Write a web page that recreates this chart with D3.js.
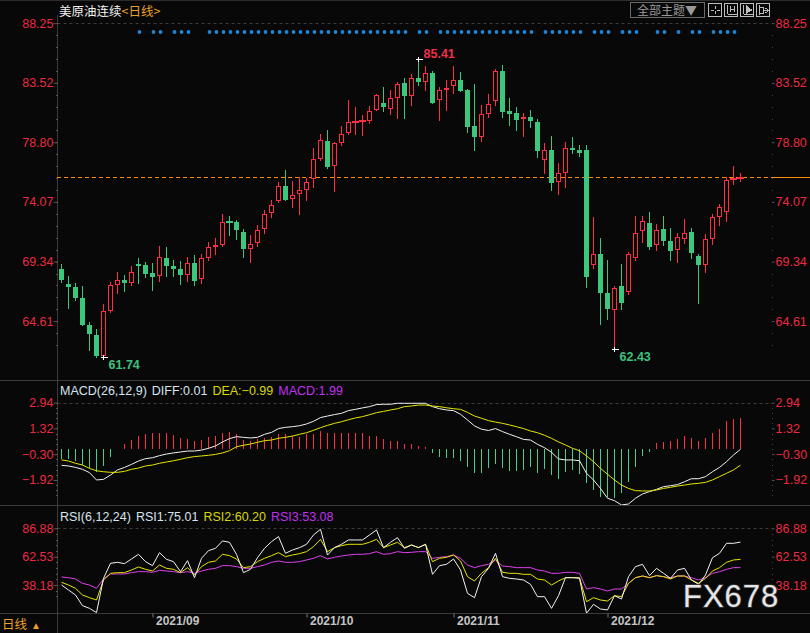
<!DOCTYPE html>
<html><head><meta charset="utf-8">
<script src="https://cdn.jsdelivr.net/npm/d3@7"></script>
<style>
html,body{margin:0;padding:0;background:#080808;overflow:hidden}
svg{display:block}
text{font-family:"Liberation Sans",Arial,sans-serif}
.cjk{font-family:"Noto Sans CJK SC","Liberation Sans",sans-serif}
</style></head><body>
<svg id="c" width="810" height="633"></svg>
<script>
// ---------- DATA ----------
const openP=[68.75,67.56,67.32,66.44,64.33,63.51,61.87,65.44,67.50,67.87,67.66,69.14,69.04,68.43,68.22,69.62,68.98,68.74,68.30,69.22,67.92,69.64,70.52,70.68,72.55,72.48,71.68,70.36,70.78,71.89,73.16,74.11,75.33,74.27,74.67,75.04,75.86,77.47,78.90,76.94,78.77,79.51,80.38,80.46,80.52,81.39,81.92,81.47,82.34,83.50,82.50,83.90,83.61,84.30,82.18,82.95,83.29,83.74,82.95,80.09,79.25,81.07,82.10,84.46,81.28,81.12,80.62,80.81,80.41,77.42,78.19,75.67,76.39,78.35,78.19,78.19,69.09,69.93,66.84,65.52,67.39,66.91,69.64,71.78,72.39,70.62,71.92,70.96,70.28,71.15,71.68,69.77,69.09,71.15,72.90,73.29,75.92,76.02];
const highP=[69.14,68.19,67.63,67.40,64.54,63.96,65.97,67.74,68.51,68.27,68.98,69.64,69.27,69.19,70.57,70.49,69.46,69.38,69.70,69.86,69.94,70.89,71.20,73.11,72.95,72.63,71.92,71.44,72.21,73.43,74.22,75.68,76.60,75.73,76.07,75.97,78.37,79.48,79.77,78.82,80.09,82.15,81.60,80.96,81.68,82.66,83.19,82.95,83.58,83.90,84.22,85.41,84.85,84.43,83.19,83.74,84.85,84.38,83.03,83.43,81.76,82.61,84.62,84.93,82.31,81.60,81.15,81.40,80.65,78.74,79.30,77.13,78.82,79.19,78.58,78.58,72.90,71.20,69.46,67.39,69.14,70.06,72.95,72.95,73.27,72.31,72.95,71.99,71.60,72.71,72.00,69.93,71.52,73.11,73.90,76.07,76.91,76.36];
const lowP=[67.74,65.68,66.31,64.33,62.34,61.80,61.74,65.36,66.87,67.03,67.48,67.63,68.14,67.10,67.82,68.19,68.19,67.55,67.82,67.48,67.66,69.46,69.96,70.60,71.47,71.15,69.72,69.33,70.60,71.57,72.85,74.09,74.25,73.69,73.14,74.22,75.28,77.39,76.78,74.96,78.58,79.46,79.46,79.40,80.36,81.34,81.26,81.07,80.75,80.75,81.76,83.37,82.95,81.92,80.57,81.36,82.74,82.87,79.62,78.19,78.90,80.81,81.76,80.81,80.17,79.78,79.32,80.04,77.66,76.39,75.01,74.72,75.28,77.95,77.74,67.34,68.85,64.40,64.77,62.43,65.57,66.73,69.46,70.91,70.33,70.25,70.67,69.46,69.30,70.80,69.61,66.04,68.48,70.72,72.23,72.55,75.49,75.75];
const closeP=[67.87,67.34,66.47,64.33,63.61,61.85,65.39,67.48,67.87,67.66,68.51,68.98,68.37,68.11,69.67,68.98,68.74,68.27,69.19,67.82,69.59,70.46,70.62,72.48,72.50,71.87,70.36,70.70,71.84,73.11,73.79,75.33,74.25,74.59,74.99,75.62,77.47,78.98,76.84,78.72,79.43,80.41,80.49,80.57,81.28,82.53,81.60,82.29,83.43,82.47,83.87,83.61,84.27,81.92,82.92,83.11,83.71,82.87,80.01,79.22,81.02,81.81,84.43,81.23,81.07,80.57,80.81,80.49,78.11,78.16,75.59,76.33,78.32,78.19,77.98,68.13,69.93,66.86,65.57,67.21,66.04,69.91,71.57,72.55,70.49,71.84,70.99,70.17,71.28,71.60,70.01,69.06,71.10,72.87,73.66,75.80,75.96,76.08];

const macdDif=[-1.00,-1.04,-1.13,-1.25,-1.46,-1.92,-1.88,-1.61,-1.29,-1.13,-0.94,-0.73,-0.58,-0.52,-0.39,-0.29,-0.22,-0.16,-0.10,-0.10,-0.04,0.07,0.22,0.47,0.68,0.80,0.76,0.72,0.76,0.95,1.07,1.31,1.39,1.43,1.49,1.60,1.77,2.00,2.10,2.19,2.27,2.44,2.52,2.61,2.69,2.82,2.84,2.84,2.90,2.90,2.90,2.90,2.90,2.69,2.56,2.48,2.44,2.21,1.85,1.48,1.27,1.19,1.31,1.12,0.95,0.80,0.63,0.59,0.32,0.11,-0.18,-0.60,-0.66,-0.66,-0.71,-1.50,-1.92,-2.45,-3.07,-3.22,-3.49,-3.43,-3.07,-2.80,-2.65,-2.51,-2.34,-2.28,-2.21,-2.03,-1.84,-1.84,-1.71,-1.40,-1.13,-0.77,-0.35,0.01];
const macdDea=[-0.66,-0.73,-0.87,-0.98,-1.19,-1.34,-1.40,-1.44,-1.44,-1.38,-1.25,-1.17,-1.04,-0.98,-0.87,-0.79,-0.71,-0.62,-0.52,-0.45,-0.41,-0.37,-0.31,-0.22,-0.08,0.17,0.26,0.34,0.45,0.55,0.59,0.70,0.76,0.84,0.95,1.05,1.20,1.37,1.51,1.64,1.74,1.87,1.98,2.06,2.18,2.31,2.39,2.48,2.56,2.69,2.73,2.79,2.79,2.73,2.69,2.62,2.56,2.52,2.33,2.10,1.96,1.81,1.72,1.64,1.54,1.43,1.31,1.16,1.05,0.89,0.70,0.47,0.28,0.07,-0.08,-0.41,-0.77,-1.19,-1.56,-1.92,-2.24,-2.45,-2.59,-2.61,-2.61,-2.55,-2.45,-2.38,-2.30,-2.24,-2.17,-2.13,-2.07,-1.92,-1.71,-1.50,-1.29,-0.99];
const macdHist=[-0.60,-0.60,-0.75,-0.98,-1.17,-1.44,-1.04,-0.45,0.05,0.34,0.59,0.87,0.97,1.05,1.01,1.01,0.91,0.74,0.66,0.53,0.59,0.76,0.84,1.05,1.12,0.97,0.59,0.55,0.64,0.70,0.80,0.97,0.97,0.84,0.80,0.97,0.97,1.18,1.01,1.01,1.05,1.05,1.01,1.01,0.84,0.84,0.64,0.55,0.55,0.34,0.34,0.24,0.17,-0.25,-0.45,-0.52,-0.52,-0.73,-1.13,-1.50,-1.50,-1.15,-0.92,-1.15,-1.33,-1.33,-1.29,-1.13,-1.46,-1.25,-1.61,-1.88,-1.40,-1.29,-1.56,-2.13,-2.55,-2.97,-2.97,-3.07,-2.76,-2.03,-1.13,-0.41,-0.14,0.38,0.49,0.53,0.63,0.84,0.70,0.53,0.70,1.05,1.30,1.78,1.89,1.99];

const rsi1=[38.18,33.88,29.59,20.42,18.12,14.46,43.91,56.80,57.66,56.52,60.53,64.54,58.23,54.80,65.97,60.24,58.23,49.64,59.09,44.48,61.10,67.69,69.70,76.00,74.85,64.54,48.78,51.65,61.67,69.70,75.43,79.72,65.40,68.26,70.27,73.13,81.15,86.03,63.97,70.27,73.13,76.86,76.86,76.86,81.15,85.45,70.27,74.85,78.86,69.70,72.56,70.27,73.13,47.35,54.80,55.94,60.53,51.07,31.02,27.29,45.34,52.51,65.40,45.34,43.91,43.34,42.48,38.75,28.15,28.15,18.12,29.01,44.48,44.48,43.91,13.88,21.56,17.55,16.75,29.01,26.15,45.34,53.94,55.94,46.21,52.51,48.21,43.91,51.07,52.51,42.48,38.75,46.78,61.67,65.40,73.99,73.99,75.01];
const rsi2=[40.47,38.18,35.32,29.59,27.29,25.29,42.48,48.21,48.78,48.78,51.07,53.65,51.65,50.21,55.37,52.51,51.65,48.78,53.08,46.78,53.94,57.66,58.81,64.54,63.39,60.53,53.08,53.94,58.23,61.10,63.39,65.97,62.53,63.97,65.11,66.83,71.13,77.43,66.83,70.27,71.99,73.13,73.13,73.13,74.85,77.43,70.27,72.56,74.85,70.27,72.56,70.27,73.13,58.23,61.10,61.96,63.97,58.81,45.34,41.62,48.21,53.08,61.10,49.07,48.21,48.21,47.35,47.35,43.34,42.48,38.18,41.62,44.48,44.48,44.48,23.86,27.29,25.29,24.43,29.01,28.15,39.61,44.48,45.92,44.48,46.21,45.34,43.34,45.92,45.92,42.48,39.61,43.91,50.21,53.08,57.66,59.67,60.20];
const rsi3=[45.06,44.48,43.34,39.61,38.18,35.32,43.34,47.64,47.64,47.64,48.78,49.64,49.64,49.07,50.79,50.21,49.64,48.78,49.64,48.21,50.21,51.65,52.51,54.80,54.80,53.94,52.51,52.51,53.94,55.37,57.66,58.81,57.66,57.66,58.23,59.67,61.10,63.39,60.53,61.96,63.11,63.97,64.54,64.54,65.11,66.83,64.54,65.11,66.83,65.97,66.26,66.83,66.83,61.10,61.96,62.53,63.97,61.10,55.37,53.08,54.80,55.94,59.67,54.51,53.94,53.08,53.08,53.08,51.07,50.21,48.21,48.21,49.07,49.07,48.21,34.74,35.89,34.74,33.02,34.74,34.74,39.61,44.48,45.92,44.48,46.21,45.34,44.48,45.92,45.92,44.48,42.48,44.48,48.21,49.64,51.65,53.08,53.08];

const signalIdx=[11,13,14,16,17,18,21,22,23,24,25,26,27,28,29,30,31,32,33,34,35,36,37,38,39,40,41,42,43,44,45,46,47,48,49,51,52,54,55,56,57,58,59,60,61,62,63,64,65,66,67,69,70,71,72,73,74,76,77,78,80,81,82,85,86,88,90,91,93,94,95,96];

const priceTicks=[88.25,83.52,78.80,74.07,69.34,64.61];
const macdTicks=[2.94,1.32,-0.30,-1.92];
const rsiTicks=[86.88,62.53,38.18];
const monthIdx=[13,35,56,78];
const monthLabels=['2021/09','2021/10','2021/11','2021/12'];
const extremes=[{i:51,v:85.41,kind:'high'},{i:6,v:61.74,kind:'low'},{i:79,v:62.43,kind:'low'}];

// ---------- STYLE ----------
const RED='#ff2e44', GREEN='#3cc77c', AXISRED='#ec2a40', GRID='#3c3c3c', LINEC='#3a3a3a', ORANGE='#ff8c10';
const L=57.5, R=772.5;

const svg=d3.select('#c');
svg.append('rect').attr('width',810).attr('height',633).attr('fill','#080808');

const n=closeP.length;
const x=d3.scaleLinear().domain([0,n-1]).range([61.5,61.5+7*(n-1)]);
const yP=d3.scaleLinear().domain([88.25,64.61]).range([23.2,321.1]);
const yM=d3.scaleLinear().domain([2.94,-1.92]).range([402.65,479.98]);
const yR=d3.scaleLinear().domain([86.88,38.18]).range([528.3,585.0]);

// frame lines
const frame=svg.append('g').attr('stroke',LINEC).attr('shape-rendering','crispEdges');
frame.append('line').attr('x1',0).attr('x2',810).attr('y1',0.5).attr('y2',0.5).attr('stroke','#2c2c2c');
frame.append('line').attr('x1',L).attr('x2',L).attr('y1',15).attr('y2',633);
[380.5,505.5,613.5].forEach(v=>frame.append('line').attr('x1',0).attr('x2',810).attr('y1',v).attr('y2',v));

// dashed top grid lines
[[yP,88.25],[yM,2.94],[yR,86.88]].forEach(([s,v])=>{
  svg.append('line').attr('x1',L).attr('x2',R).attr('y1',Math.round(s(v))+0.5).attr('y2',Math.round(s(v))+0.5)
    .attr('stroke',GRID).attr('stroke-dasharray','3,3');
});

// minor ticks
function minorVals(scale,ticks){
  const step=(ticks[0]-ticks[1])/5;
  const [d0,d1]=scale.domain();
  const hi=d3.max([d0,d1])+step*3, lo=d3.min([d0,d1])-step*3;
  const vals=[];
  for(let v=ticks[0]; v>lo; v-=step) vals.push(v);
  for(let v=ticks[0]+step; v<hi; v+=step) vals.push(v);
  return vals;
}
function drawMinor(scale,ticks,top,bot){
  const vals=minorVals(scale,ticks).filter(v=>scale(v)>top&&scale(v)<bot);
  svg.append('g').selectAll('line').data(vals).join('line')
    .attr('x1',L-2).attr('x2',L).attr('y1',d=>Math.round(scale(d))+0.5).attr('y2',d=>Math.round(scale(d))+0.5)
    .attr('stroke','#555').attr('shape-rendering','crispEdges');
  svg.append('g').selectAll('rect').data(vals).join('rect')
    .attr('x',R-0.5).attr('width',1).attr('height',1).attr('y',d=>Math.round(scale(d)))
    .attr('fill','#444');
}
drawMinor(yP,priceTicks,18,378);
drawMinor(yM,macdTicks,398,503);
drawMinor(yR,rsiTicks,524,611);

// axes
function styleAxis(g){
  g.select('.domain').remove();
  g.selectAll('line').attr('stroke','#555');
  g.selectAll('text').attr('fill',AXISRED).attr('font-size','12.5px')
    .attr('font-family','"Liberation Sans",Arial,sans-serif');
}
const fmt=d3.format('.2f');
[[yP,priceTicks],[yM,macdTicks],[yR,rsiTicks]].forEach(([s,t])=>{
  svg.append('g').attr('transform',`translate(${L},0)`)
    .call(d3.axisLeft(s).tickValues(t).tickFormat(fmt).tickSize(4).tickPadding(0)).call(styleAxis);
  svg.append('g').attr('transform',`translate(${R},0)`)
    .call(d3.axisRight(s).tickValues(t).tickFormat(fmt).tickSize(2).tickPadding(1)).call(styleAxis);
});

// date axis
const xa=svg.append('g').attr('transform','translate(0,613.5)')
  .call(d3.axisBottom(x).tickValues(monthIdx).tickFormat((d,i)=>monthLabels[i]).tickSize(4));
xa.select('.domain').remove();
xa.selectAll('line').attr('stroke','#777');
xa.selectAll('text').attr('fill','#c4c4c4').attr('font-size','12px').attr('font-weight','bold')
  .attr('text-anchor','start').attr('x',3).attr('y',3).attr('dy','0.71em');

// clip paths
const defs=svg.append('defs');
defs.append('clipPath').attr('id','cm').append('rect').attr('x',L+0.5).attr('y',15).attr('width',R-L-1).attr('height',365);
defs.append('clipPath').attr('id','cd').append('rect').attr('x',L+0.5).attr('y',381).attr('width',R-L-1).attr('height',124);
defs.append('clipPath').attr('id','cr').append('rect').attr('x',L+0.5).attr('y',506).attr('width',R-L-1).attr('height',107);

// last price line: dashes inside the plot, solid beyond the right axis (drawn as filled rects)
const yLast=Math.round(yP(closeP[n-1]));
const lp=svg.append('g').attr('fill',ORANGE).attr('shape-rendering','crispEdges');
lp.selectAll('rect').data(d3.range(L-0.5,R,7)).join('rect')
  .attr('x',d=>d).attr('y',yLast).attr('width',4).attr('height',1.3);
lp.append('rect').attr('x',R).attr('y',yLast).attr('width',810-R).attr('height',1.3);

// ---------- MAIN: candles ----------
const main=svg.append('g').attr('clip-path','url(#cm)');
const candles=d3.range(n).map(i=>({i,o:openP[i],h:highP[i],l:lowP[i],c:closeP[i]}));
const cg=main.append('g').attr('shape-rendering','crispEdges');
candles.forEach(d=>{
  const cx=x(d.i);
  const up=d.c>=d.o;
  const col=up?RED:GREEN;
  const yTop=Math.round(yP(Math.max(d.o,d.c)));
  const yBot=Math.round(yP(Math.min(d.o,d.c)));
  const yH=Math.round(yP(d.h)), yL=Math.round(yP(d.l));
  if(yBot-yTop<=1){
    cg.append('line').attr('x1',cx).attr('x2',cx).attr('y1',yH).attr('y2',yL+1).attr('stroke',col);
    cg.append('rect').attr('x',cx-3.5).attr('y',yTop).attr('width',7).attr('height',2).attr('fill',col);
    return;
  }
  if(up){
    cg.append('line').attr('x1',cx).attr('x2',cx).attr('y1',yH).attr('y2',yTop).attr('stroke',col);
    cg.append('line').attr('x1',cx).attr('x2',cx).attr('y1',yBot).attr('y2',yL+1).attr('stroke',col);
    cg.append('rect').attr('x',cx-2).attr('y',yTop+0.5).attr('width',4).attr('height',yBot-yTop-1)
      .attr('fill','#080808').attr('stroke',col);
  } else {
    cg.append('line').attr('x1',cx).attr('x2',cx).attr('y1',yH).attr('y2',yL+1).attr('stroke',col);
    cg.append('rect').attr('x',cx-2.5).attr('y',yTop).attr('width',5).attr('height',yBot-yTop).attr('fill',col);
  }
});

// extremes
extremes.forEach(e=>{
  const cx=x(e.i), cy=Math.round(yP(e.v))+0.5;
  svg.append('line').attr('x1',cx-3).attr('x2',cx+4).attr('y1',cy).attr('y2',cy).attr('stroke','#fff').attr('shape-rendering','crispEdges');
  svg.append('line').attr('x1',cx).attr('x2',cx).attr('y1',cy-2.5).attr('y2',cy+2.5).attr('stroke','#fff').attr('shape-rendering','crispEdges');
  svg.append('text').attr('x',cx+5).attr('y',e.kind==='high'?cy-2:cy+11)
    .attr('fill',e.kind==='high'?'#f0304a':'#3cc080').attr('font-size','12.5px').attr('font-weight','bold')
    .text(fmt(e.v));
});

// signal dots
svg.append('g').selectAll('circle').data(signalIdx).join('circle')
  .attr('cx',d=>x(d)+1).attr('cy',32).attr('r',1.9).attr('fill','#1f86d6');

// ---------- MACD ----------
const md=svg.append('g').attr('clip-path','url(#cd)');
const y0=Math.round(yM(0));
md.append('g').attr('shape-rendering','crispEdges').selectAll('line').data(macdHist).join('line')
  .attr('x1',(d,i)=>x(i)).attr('x2',(d,i)=>x(i))
  .attr('y1',y0).attr('y2',d=>Math.round(yM(d)))
  .attr('stroke',d=>d>=0?RED:'#46cf86');
const lm=(s)=>d3.line().x((d,i)=>x(i)).y(d=>s(d));
md.append('path').datum(macdDif).attr('d',lm(yM)).attr('fill','none').attr('stroke','#f2f2f2').attr('stroke-width',1);
md.append('path').datum(macdDea).attr('d',lm(yM)).attr('fill','none').attr('stroke','#e6e600').attr('stroke-width',1);

// ---------- RSI ----------
const rg=svg.append('g').attr('clip-path','url(#cr)');
rg.append('path').datum(rsi3).attr('d',lm(yR)).attr('fill','none').attr('stroke','#e040f0').attr('stroke-width',1);
rg.append('path').datum(rsi2).attr('d',lm(yR)).attr('fill','none').attr('stroke','#e6e600').attr('stroke-width',1);
rg.append('path').datum(rsi1).attr('d',lm(yR)).attr('fill','none').attr('stroke','#f2f2f2').attr('stroke-width',1);

// ---------- headers ----------
const t1=svg.append('text').attr('x',59).attr('y',16).attr('font-size','12.5px').attr('class','cjk');
t1.append('tspan').attr('fill','#f0f0f0').text('美原油连续');
t1.append('tspan').attr('fill','#e8a030').text('<日线>');

function header(y,parts){
  const t=svg.append('text').attr('x',60).attr('y',y).attr('font-size','12.5px');
  parts.forEach(([txt,col],k)=>t.append('tspan').attr('fill',col).attr('dx',k?5:0).text(txt));
}
header(395,[['MACD(26,12,9)','#d6e4f0'],['DIFF:'+fmt(macdDif[n-1]),'#d6e4f0'],['DEA:'+fmt(macdDea[n-1]),'#d8d800'],['MACD:'+fmt(macdHist[n-1]),'#c030f0']]);
header(521,[['RSI(6,12,24)','#d6e4f0'],['RSI1:'+fmt(rsi1[n-1]),'#d6e4f0'],['RSI2:'+fmt(rsi2[n-1]),'#d8d800'],['RSI3:'+fmt(rsi3[n-1]),'#c030f0']]);

// bottom-left
svg.append('text').attr('x',2).attr('y',629).attr('class','cjk').attr('font-size','12.5px').attr('fill','#f0a028').text('日线');
svg.append('text').attr('x',31).attr('y',629).attr('font-size','10px').attr('fill','#f0a028').text('▲');

// top-right toolbar
svg.append('rect').attr('x',630.5).attr('y',2.5).attr('width',74).attr('height',15).attr('fill','none').attr('stroke','#6a6a6a');
svg.append('text').attr('x',637).attr('y',15).attr('class','cjk').attr('font-size','12px').attr('fill','#9a9a9a').text('全部主题▼');
[708.5,724.5,740.5,756.5].forEach((bx,k)=>{
  const g=svg.append('g').attr('stroke','#bdbdbd').attr('fill','none').attr('shape-rendering','crispEdges');
  g.append('rect').attr('x',bx).attr('y',3.5).attr('width',13).attr('height',13);
  if(k===0){
    g.append('line').attr('x1',bx+6.5).attr('x2',bx+6.5).attr('y1',6).attr('y2',9);
    g.append('line').attr('x1',bx+6.5).attr('x2',bx+6.5).attr('y1',11).attr('y2',14);
    g.append('line').attr('x1',bx+2).attr('x2',bx+5).attr('y1',10.5).attr('y2',10.5);
    g.append('line').attr('x1',bx+8).attr('x2',bx+11).attr('y1',10.5).attr('y2',10.5);
  } else if(k===1){
    g.append('line').attr('x1',bx+3).attr('x2',bx+3).attr('y1',5).attr('y2',14);
    g.append('line').attr('x1',bx+3).attr('x2',bx+12).attr('y1',14.5).attr('y2',14.5);
    g.append('line').attr('x1',bx+6).attr('x2',bx+6).attr('y1',6).attr('y2',12);
    g.append('line').attr('x1',bx+10).attr('x2',bx+10).attr('y1',6).attr('y2',12);
    g.append('line').attr('x1',bx+6).attr('x2',bx+10).attr('y1',9.5).attr('y2',9.5);
  } else if(k===2){
    g.append('line').attr('x1',bx+3).attr('x2',bx+3).attr('y1',5).attr('y2',14);
    g.append('line').attr('x1',bx+3).attr('x2',bx+12).attr('y1',14.5).attr('y2',14.5);
    g.append('path').attr('d',`M${bx+6},6 L${bx+11},10 L${bx+6},13 Z`).attr('fill','#bdbdbd');
  } else {
    g.append('line').attr('x1',bx+3).attr('x2',bx+3).attr('y1',5).attr('y2',15);
    g.append('rect').attr('x',bx+3).attr('y',7).attr('width',4).attr('height',6);
    g.append('line').attr('x1',bx+7).attr('x2',bx+12).attr('y1',10.5).attr('y2',10.5);
    g.append('path').attr('d',`M${bx+9},8 L${bx+12},10.5 L${bx+9},13`);
  }
});

// watermark
svg.append('text').attr('x',683).attr('y',607).attr('font-size','31px').attr('letter-spacing','1px')
  .attr('fill','#e6e6e6').attr('stroke','#3a3a3a').attr('stroke-width',1.5).attr('paint-order','stroke')
  .text('FX678');
</script>
</body></html>
